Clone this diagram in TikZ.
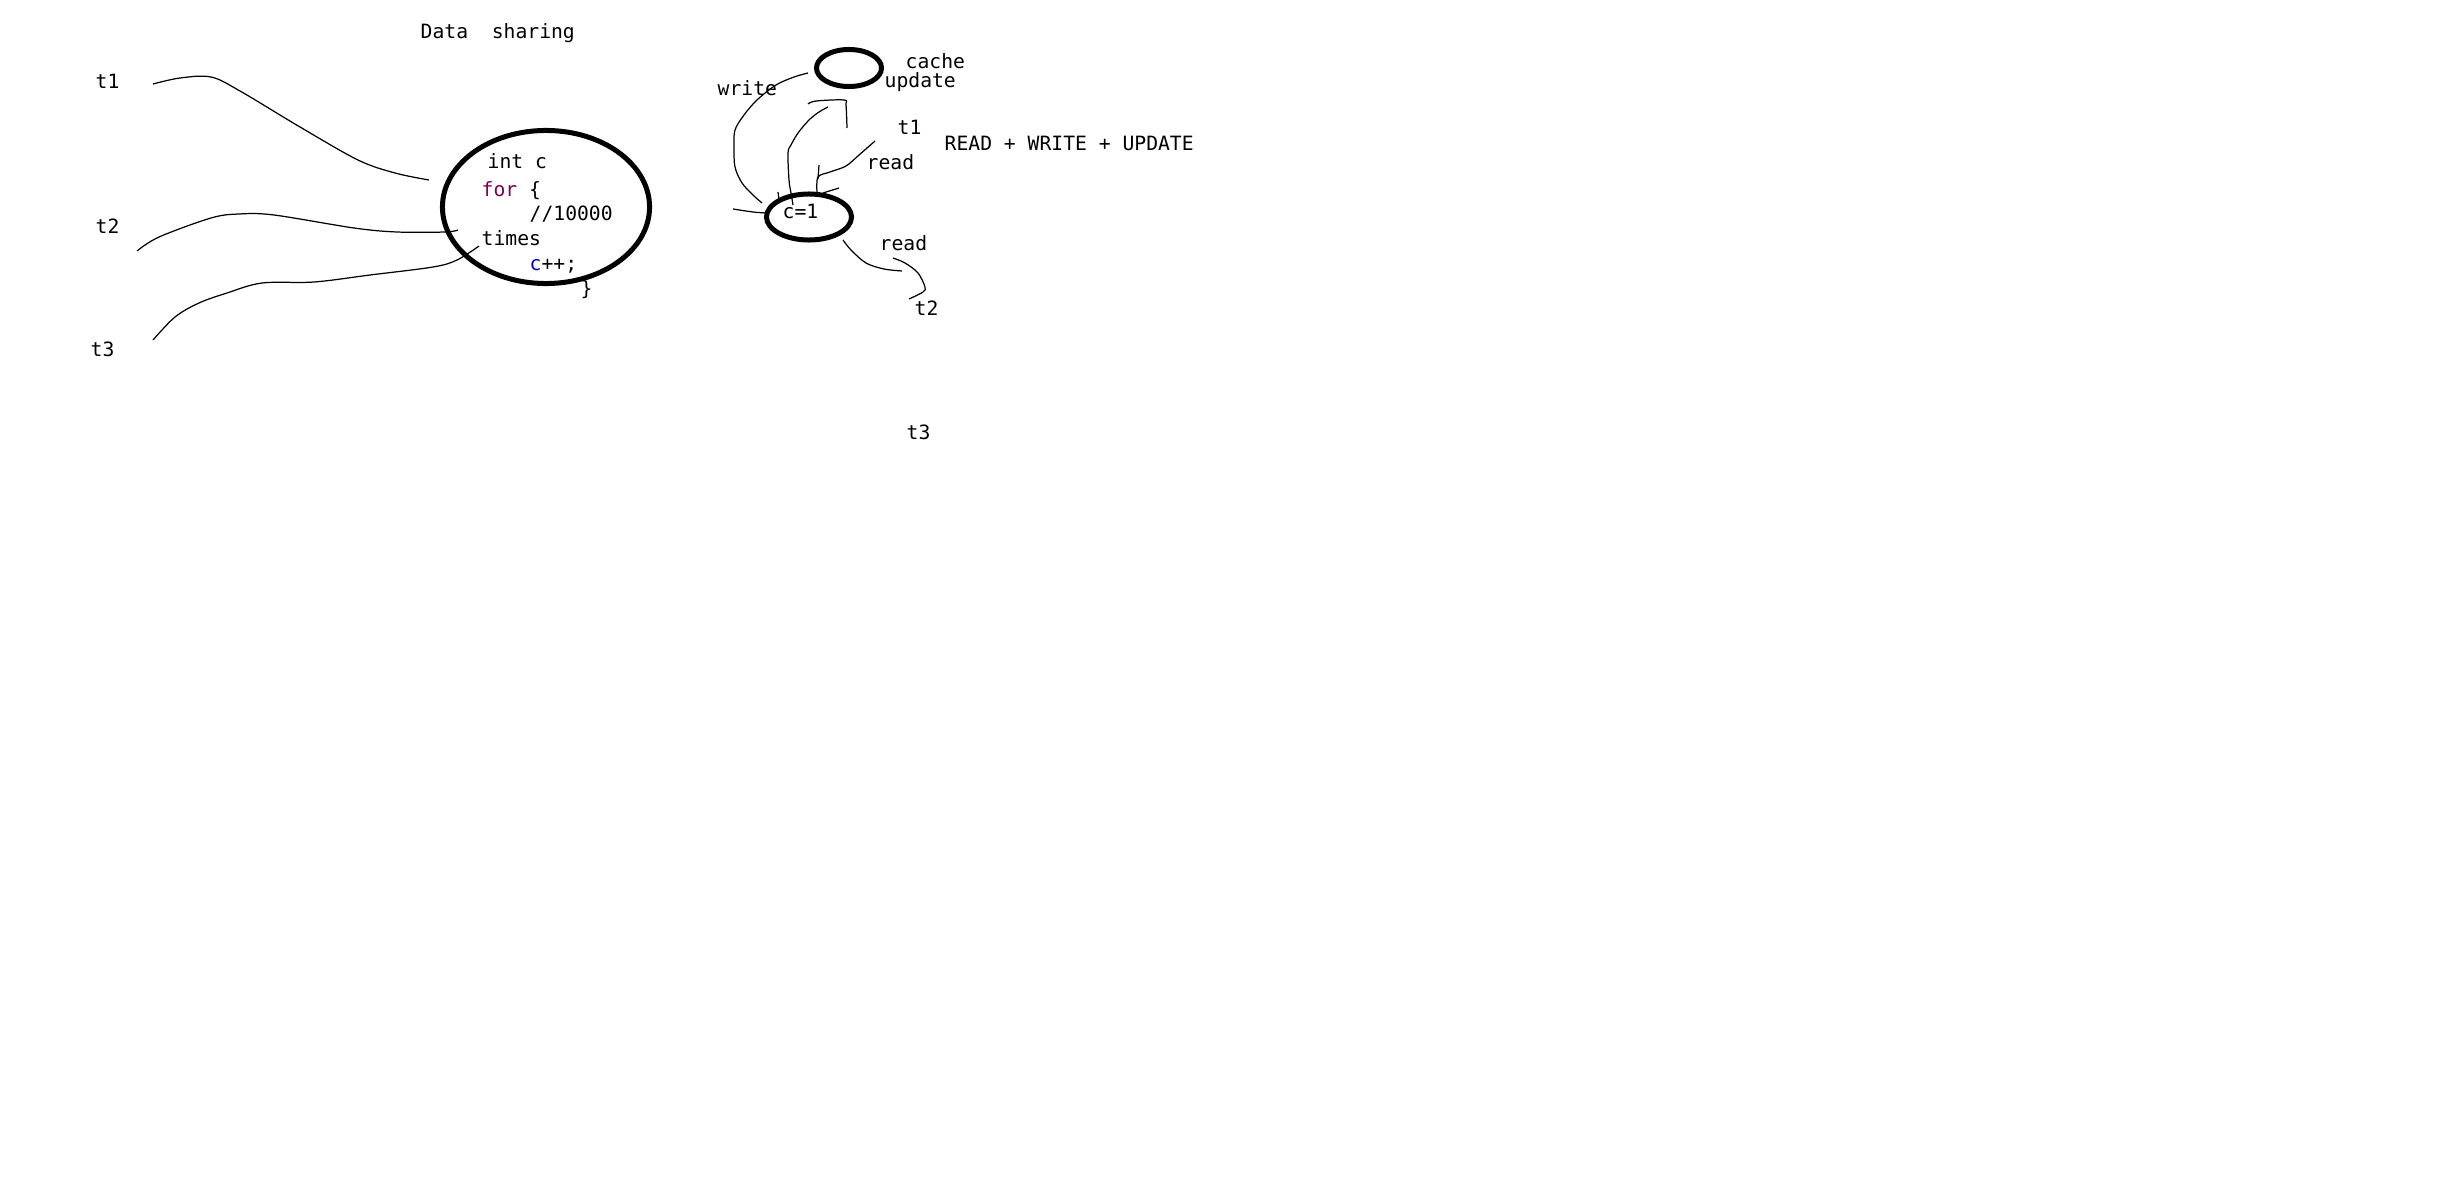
\documentclass[tikz,border=0pt]{standalone}
\usepackage{fontspec}
\usetikzlibrary{shapes.geometric,positioning}
\newfontfamily\sketchfont{DejaVu Sans Mono}
\definecolor{kwpurple}{RGB}{127,0,85}
\definecolor{fieldblue}{RGB}{0,0,192}

\begin{document}
\begin{tikzpicture}[
    x=0.01cm, y=-0.01cm,
    lbl/.style={font=\sketchfont\fontsize{5.6pt}{6pt}\selectfont, inner sep=0pt, anchor=west, text height=1.5ex, text depth=0.25ex, yshift=0.015cm},
    ring/.style={ellipse, draw, line width=0.05cm, inner sep=0pt},
    stroke/.style={line width=0.35pt, smooth, tension=0.55}
]
    \useasboundingbox[fill=white] (0,0) rectangle (2440,1176);

    \node[lbl] (title) at (420,31) {Data\ \ sharing};
    \node[lbl] (t1) at (95,81) {t1};
    \node[lbl] (t2) at (95,226) {t2};
    \node[lbl] (t3) at (90,349) {t3};

    \node[ring, minimum width=2.07cm, minimum height=1.53cm] (shared) at (546,207) {};
    \node[lbl] (decl) at (487,161) {int c};
    \node[lbl] (loop) at (481,189) {\textcolor{kwpurple}{for} \{};
    \node[lbl] (count) at (529,213) {//10000};
    \node[lbl] (times) at (481,238) {times};
    \node[lbl] (incr) at (529,263) {\textcolor{fieldblue}{c}++;};
    \node[lbl] (close) at (580,288) {\}};

    \draw[stroke] plot coordinates {(153,84) (180,78) (211,77) (240,91) (300,127) (358,160) (395,173) (429,180)};
    \draw[stroke] plot coordinates {(137,251) (159,237) (211,218) (239,214) (274,215) (354,228) (397,232) (445,232) (458,230)};
    \draw[stroke] plot coordinates {(153,340) (175,317) (199,303) (227,293) (262,283) (314,282) (370,275) (433,267) (457,260) (479,246)};

    \node[ring, minimum width=0.65cm, minimum height=0.37cm] (cachering) at (849,68) {};
    \node[lbl] (cache) at (905,61) {cache};
    \node[lbl] (update) at (884,80) {update};
    \node[lbl] (write) at (717,88) {write};
    \node[lbl] (t1r) at (897,127) {t1};
    \node[lbl] (rwu) at (944,143) {READ + WRITE + UPDATE};
    \node[lbl] (read1) at (866,162) {read};

    \node[ring, minimum width=0.85cm, minimum height=0.46cm] (cell) at (809,217) {};
    \node[lbl] (cval) at (782,211) {c=1};
    \node[lbl] (read2) at (879,243) {read};
    \node[lbl] (t2r) at (914,308) {t2};
    \node[lbl] (t3r) at (906,432) {t3};

    \draw[stroke] plot coordinates {(808,73) (794,77) (776,85) (757,100) (744,115) (735,130) (734,147) (735,167) (742,183) (753,195) (762,203)};
    \draw[stroke] plot coordinates {(733,209) (753,212) (766,213)};
    \draw[stroke] (778,192) -- (779,199);
    \draw[stroke] plot coordinates {(793,205) (791,193) (789,180) (788,153) (791,145) (798,133) (809,120) (819,112) (828,107)};
    \draw[stroke] plot coordinates {(808,104) (816,101) (844,100) (846,105) (847,128)};
    \draw[stroke] (819,165) -- (818,179);
    \draw[stroke] plot coordinates {(817,192) (818,177) (830,172) (846,166) (859,155) (875,141)};
    \draw[stroke] (823,193) -- (839,188);
    \draw[stroke] plot coordinates {(843,240) (851,250) (866,263) (884,269) (902,271)};
    \draw[stroke] plot coordinates {(893,258) (905,263) (918,273) (925,287) (923,292) (909,299)};
\end{tikzpicture}
\end{document}
